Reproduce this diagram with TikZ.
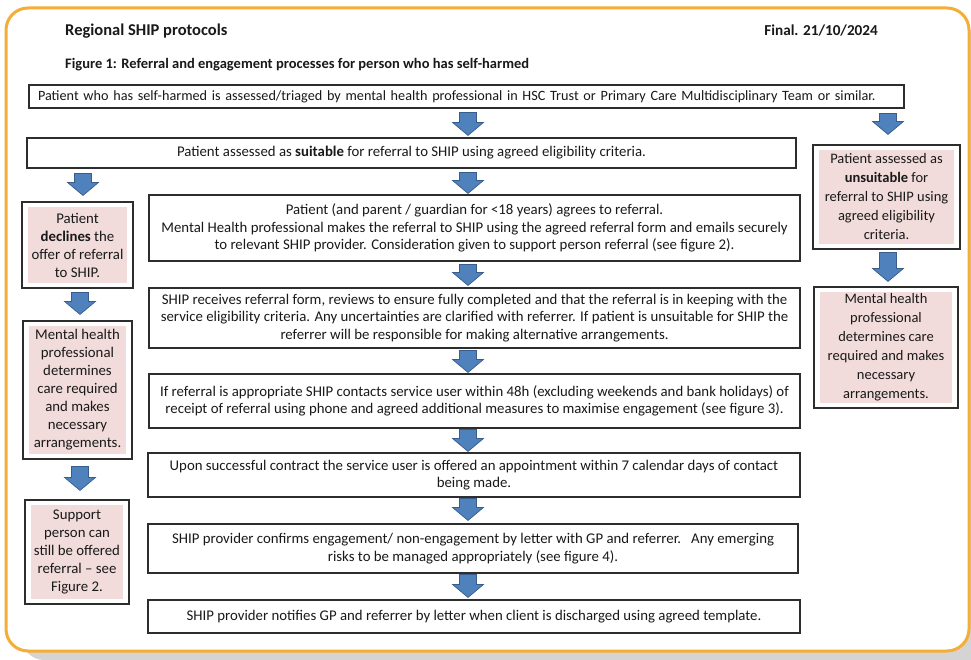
\documentclass[tikz,border=0pt]{standalone}
\usepackage{fontspec}
\setmainfont{Carlito}
\usetikzlibrary{calc, positioning}
\definecolor{frameOrange}{RGB}{246,173,55}
\definecolor{shadowGray}{RGB}{212,212,212}
\definecolor{notePink}{RGB}{242,220,219}
\definecolor{arrowBlue}{RGB}{79,129,189}
\definecolor{arrowEdge}{RGB}{56,93,138}
\definecolor{boxEdge}{RGB}{45,45,45}
\definecolor{inkGray}{RGB}{25,25,25}
\tikzstyle{process}=[draw=boxEdge, line width=1.1pt, fill=white, inner sep=0pt, align=center, text=inkGray, font=\fontsize{14.8}{17.5}\selectfont]
\tikzstyle{sideNote}=[process, font=\fontsize{14.8}{18}\selectfont, path picture={\fill[notePink] ([shift={(6pt,-5pt)}]path picture bounding box.north west) rectangle ([shift={(-6pt,5pt)}]path picture bounding box.south east);}]
\tikzstyle{blockArrow}=[fill=arrowBlue, draw=arrowEdge, line width=0.7pt, line join=miter]
\tikzstyle{heading}=[anchor=west, inner sep=0pt, text=inkGray, font=\bfseries\fontsize{16.5}{19}\selectfont]

% block arrow: from, to, column, top gap, bottom gap
\newcommand{\blockArrow}[5]{%
  \draw[blockArrow] let \p1=(#1 -| #3), \p2=(#2 -| #3) in
    (\x1-8.5pt,\y1-#4) -- (\x1+8.5pt,\y1-#4) -- (\x1+8.5pt,\y2+#5+13pt)
    -- (\x1+15.5pt,\y2+#5+13pt) -- (\x1,\y2+#5) -- (\x1-15.5pt,\y2+#5+13pt)
    -- (\x1-8.5pt,\y2+#5+13pt) -- cycle;}

\begin{document}
\begin{tikzpicture}[x=1pt, y=-1pt]
    \useasboundingbox (0,0) rectangle (971,660);
    % page frame
    \fill[shadowGray, rounded corners=22pt] (22,30) rectangle (995,660);
    \draw[frameOrange, line width=3pt, fill=white, rounded corners=22pt] (6,8) rectangle (969,651);

    \node[heading] (title) at (65,31) {Regional SHIP protocols};
    \node[heading, anchor=east, font=\bfseries\fontsize{15.2}{18}\selectfont] (version) at (878,31) {Final. 21/10/2024};
    \node[heading, font=\bfseries\fontsize{14.5}{17}\selectfont] (caption) at (65,65) {Figure 1: Referral and engagement processes for person who has self-harmed};

    % main column
    \node[process, font=\fontsize{14.2}{17}\selectfont, minimum width=875pt, minimum height=23pt, text width=857pt, align=left] (assess) at (466.5,96.5) {Patient who has self-harmed is assessed/triaged by mental health professional in HSC Trust or Primary Care Multidisciplinary Team or similar.};
    \node[process, minimum width=769pt, minimum height=30pt] (suitable) at (411.5,153) {Patient assessed as \textbf{suitable} for referral to SHIP using agreed eligibility criteria.};
    \node[process, minimum width=651pt, minimum height=66pt] (agree) at (474.5,228) {Patient (and parent / guardian for <18 years) agrees to referral.\\Mental Health professional makes the referral to SHIP using the agreed referral form and emails securely\\to relevant SHIP provider. Consideration given to support person referral (see figure 2).};
    \node[process, minimum width=651pt, minimum height=60pt] (receive) at (474.5,318) {SHIP receives referral form, reviews to ensure fully completed and that the referral is in keeping with the\\service eligibility criteria. Any uncertainties are clarified with referrer. If patient is unsuitable for SHIP the\\referrer will be responsible for making alternative arrangements.};
    \node[process, minimum width=651pt, minimum height=54pt] (contact) at (474.5,401) {If referral is appropriate SHIP contacts service user within 48h (excluding weekends and bank holidays) of\\receipt of referral using phone and agreed additional measures to maximise engagement (see figure 3).};
    \node[process, minimum width=652pt, minimum height=44pt] (appoint) at (474,475) {Upon successful contract the service user is offered an appointment within 7 calendar days of contact\\being made.};
    \node[process, minimum width=650pt, minimum height=49pt] (confirm) at (473,548.5) {SHIP provider confirms engagement/ non-engagement by letter with GP and referrer.\ \ \ Any emerging\\risks to be managed appropriately (see figure 4).};
    \node[process, minimum width=652pt, minimum height=33pt] (discharge) at (474,616.5) {SHIP provider notifies GP and referrer by letter when client is discharged using agreed template.};

    % left column
    \node[sideNote, minimum width=111pt, minimum height=86pt] (declines) at (77.5,245) {Patient\\\textbf{declines} the\\offer of referral\\to SHIP.};
    \node[sideNote, minimum width=109pt, minimum height=138pt] (careLeft) at (77.5,390) {Mental health\\professional\\determines\\care required\\and makes\\necessary\\arrangements.};
    \node[sideNote, minimum width=104pt, minimum height=104pt] (support) at (77,552) {Support\\person can\\still be offered\\referral -- see\\Figure 2.};

    % right column
    \node[sideNote, font=\fontsize{14.5}{19}\selectfont, minimum width=147pt, minimum height=104pt] (unsuitable) at (886.5,197) {Patient assessed as\\\textbf{unsuitable} for\\referral to SHIP using\\agreed eligibility\\criteria.};
    \node[sideNote, font=\fontsize{14.5}{19}\selectfont, minimum width=144pt, minimum height=121pt] (careRight) at (886,347.5) {Mental health\\professional\\determines care\\required and makes\\necessary\\arrangements.};

    \coordinate (colMain) at (468,0);
    \coordinate (colLeft) at (80,0);
    \coordinate (colDecl) at (83,0);
    \coordinate (colRight) at (888,0);

    \blockArrow{assess.south}{suitable.north}{colMain}{4pt}{2pt}
    \blockArrow{assess.south}{unsuitable.north}{colRight}{5pt}{10pt}
    \blockArrow{suitable.south}{agree.north}{colMain}{4pt}{1pt}
    \blockArrow{suitable.south}{declines.north}{colDecl}{5pt}{6pt}
    \blockArrow{agree.south}{receive.north}{colMain}{3pt}{2pt}
    \blockArrow{receive.south}{contact.north}{colMain}{2pt}{1pt}
    \blockArrow{contact.south}{appoint.north}{colMain}{1pt}{1pt}
    \blockArrow{appoint.south}{confirm.north}{colMain}{1pt}{3pt}
    \blockArrow{confirm.south}{discharge.north}{colMain}{1pt}{2pt}
    \blockArrow{declines.south}{careLeft.north}{colLeft}{4pt}{6pt}
    \blockArrow{careLeft.south}{support.north}{colLeft}{7pt}{9pt}
    \blockArrow{unsuitable.south}{careRight.north}{colRight}{3pt}{5pt}
\end{tikzpicture}
\end{document}
